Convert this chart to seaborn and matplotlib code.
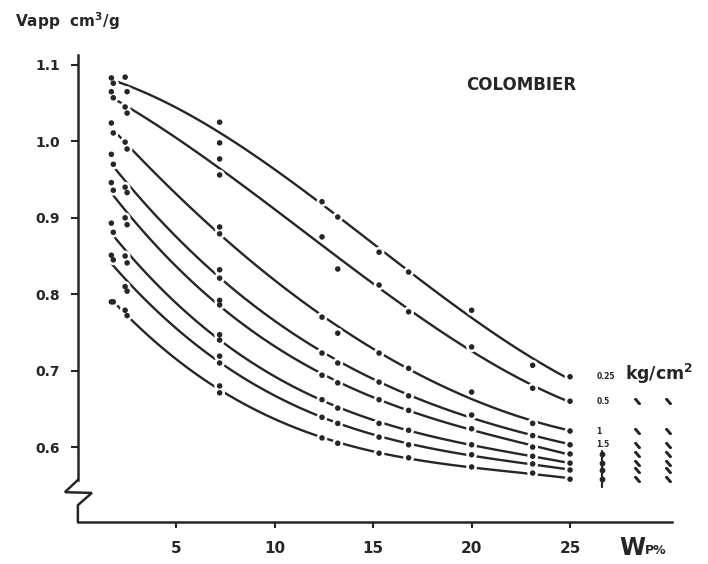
import pandas as pd
import seaborn as sns
import matplotlib.pyplot as plt
import matplotlib.transforms as mtransforms

# water content Wp % where the points were measured
wp = [1.7, 1.8, 2.4, 2.5, 7.2, 7.2, 12.4, 13.2, 15.3, 16.8, 20.0, 23.1, 25.0]

# apparent specific volume (cm3/g), one list per load curve, top to bottom
v_025 = [1.083, 1.076, 1.084, 1.065, 1.025, 0.998, 0.921, 0.901, 0.855, 0.829, 0.779, 0.707, 0.692]
v_05 = [1.065, 1.057, 1.045, 1.037, 0.977, 0.956, 0.875, 0.833, 0.812, 0.777, 0.731, 0.677, 0.660]
v_1 = [1.024, 1.011, 0.999, 0.990, 0.888, 0.879, 0.770, 0.749, 0.723, 0.703, 0.672, 0.631, 0.621]
v_15 = [0.983, 0.970, 0.940, 0.933, 0.832, 0.821, 0.723, 0.710, 0.685, 0.667, 0.642, 0.615, 0.603]
v_c5 = [0.946, 0.936, 0.900, 0.891, 0.792, 0.786, 0.694, 0.684, 0.662, 0.648, 0.624, 0.600, 0.591]
v_c6 = [0.893, 0.881, 0.850, 0.841, 0.747, 0.740, 0.662, 0.651, 0.631, 0.622, 0.603, 0.588, 0.579]
v_c7 = [0.851, 0.845, 0.810, 0.804, 0.719, 0.710, 0.639, 0.631, 0.613, 0.603, 0.590, 0.578, 0.570]
v_c8 = [0.790, 0.790, 0.779, 0.772, 0.680, 0.671, 0.612, 0.605, 0.592, 0.586, 0.574, 0.566, 0.558]

curves = [v_025, v_05, v_1, v_15, v_c5, v_c6, v_c7, v_c8]
load_labels = ["0.25", "0.5", "1", "1.5"]

x_ticks = [5, 10, 15, 20, 25]
y_ticks = [0.6, 0.7, 0.8, 0.9, 1.0, 1.1]

rows = []
for i, vals in enumerate(curves):
    for x, v in zip(wp, vals):
        rows.append({"wp": x, "vapp": v, "curve": i})
df = pd.DataFrame(rows)

ink = "#262626"
sns.set_style("ticks")
plt.rcParams["font.family"] = ["DejaVu Sans"]
plt.rcParams["font.weight"] = "bold"

fig = plt.figure(figsize=(7.08, 5.64), dpi=100)
ax = fig.add_axes([0.110, 0.0745, 0.862, 0.828])

for i, grp in df.groupby("curve"):
    sns.regplot(data=grp, x="wp", y="vapp", order=3, ci=None, scatter=False,
                truncate=True, ax=ax, line_kws=dict(color=ink, lw=1.7, zorder=2))

# white halos break the curves around each point, like the drawing
sns.scatterplot(data=df, x="wp", y="vapp", s=60, color="white", edgecolor="none",
                ax=ax, zorder=3, legend=False)
sns.scatterplot(data=df, x="wp", y="vapp", s=16, color=ink, edgecolor="none",
                ax=ax, zorder=4, legend=False)

ax.set_xlim(0, 31)
ax.set_ylim(0.502, 1.113)
sns.despine(ax=ax)
ax.spines["bottom"].set_bounds(0, 30.2)
ax.spines["left"].set_bounds(0.557, 1.113)
for sp in ("bottom", "left"):
    ax.spines[sp].set_color(ink)
    ax.spines[sp].set_linewidth(1.8)

# axis break on the y axis
brk_x = [0, -0.66, 0.71, 0, 0]
brk_y = [0.557, 0.541, 0.540, 0.524, 0.502]
ax.plot(brk_x, brk_y, color=ink, lw=1.8, clip_on=False, solid_joinstyle="miter")

ax.set_xticks(x_ticks)
ax.set_xticklabels([str(t) for t in x_ticks], fontsize=11, fontweight="bold", color=ink)
ax.set_yticks(y_ticks)
ax.set_yticklabels([f"{t:.1f}" for t in y_ticks], fontsize=10, fontweight="bold", color=ink)
ax.tick_params(axis="x", direction="out", length=4, width=1.5, pad=10, colors=ink)
ax.tick_params(axis="y", direction="out", length=5, width=1.5, pad=8, colors=ink)
ax.set_xlabel("")
ax.set_ylabel("")

trans = mtransforms.blended_transform_factory(ax.transData, ax.transAxes)
ax.text(27.5, -0.055, "W", transform=trans, fontsize=17, fontweight="bold",
        color=ink, ha="left", va="center")
ax.text(28.8, -0.06, "P%", transform=trans, fontsize=9, fontweight="bold",
        color=ink, ha="left", va="center")

fig.text(0.021, 0.962, "Vapp  cm$^{\\mathbf{3}}$/g", fontsize=11, fontweight="bold",
         color=ink, ha="left", va="center")
ax.text(22.5, 1.074, "COLOMBIER", fontsize=12, fontweight="bold", color=ink,
        ha="center", va="center")

# load labels at the right end of the curves
ends = [c[-1] for c in curves]
for lab, y in zip(load_labels, ends):
    ax.text(26.35, y, lab, fontsize=5.5, fontweight="bold", color=ink,
            ha="left", va="center")
ax.text(27.8, ends[0] + 0.004, "kg/cm$^{\\mathbf{2}}$", fontsize=12.5, fontweight="bold",
        color=ink, ha="left", va="center")
ax.plot([26.6, 26.6], [0.548, 0.595], color=ink, lw=1.6, clip_on=False)
ax.scatter([26.6] * 4, ends[4:], s=10, color=ink, clip_on=False, zorder=4)

# ditto marks for the other samples
for xc in (28.4, 30.0):
    ax.scatter([xc] * 7, ends[1:], marker=(2, 2, 42), s=18,
               color=ink, linewidths=1.8, clip_on=False)

fig.savefig("out.png", dpi=100, facecolor="white")
